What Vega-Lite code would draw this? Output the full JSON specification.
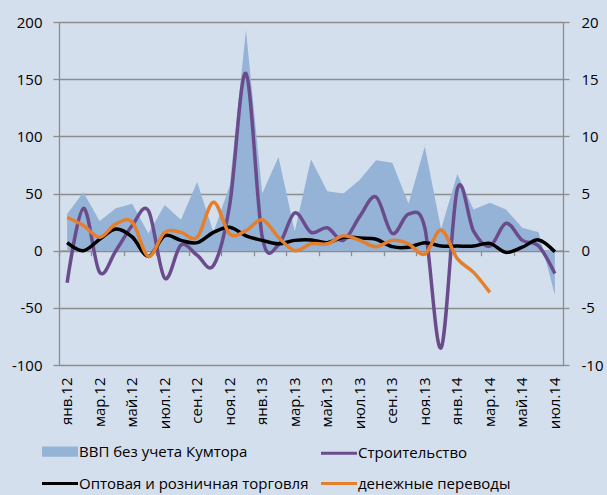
{
  "$schema": "https://vega.github.io/schema/vega-lite/v6.json",
  "width": 504,
  "height": 343,
  "autosize": {"type": "none"},
  "padding": {"left": 59, "top": 22, "right": 44, "bottom": 130},
  "background": "#D4DFEE",
  "config": {
    "view": {"stroke": null},
    "font": "Open Sans",
    "axis": {"labelFont": "Open Sans", "labelFontSize": 15, "labelColor": "#000000", "title": null}
  },
  "data": {
    "values": [
      {"m": "янв.12", "ВВП без учета Кумтора": 3.2, "Строительство": -28, "Оптовая и розничная торговля": 7, "денежные переводы": 29},
      {"m": "фев.12", "ВВП без учета Кумтора": 5.1, "Строительство": 37, "Оптовая и розничная торговля": 0, "денежные переводы": 22},
      {"m": "мар.12", "ВВП без учета Кумтора": 2.6, "Строительство": -19, "Оптовая и розничная торговля": 10, "денежные переводы": 11.7},
      {"m": "апр.12", "ВВП без учета Кумтора": 3.7, "Строительство": 0, "Оптовая и розничная торговля": 19, "денежные переводы": 23.4},
      {"m": "май.12", "ВВП без учета Кумтора": 4.1, "Строительство": 22, "Оптовая и розничная торговля": 12, "денежные переводы": 25},
      {"m": "июн.12", "ВВП без учета Кумтора": 1.5, "Строительство": 35, "Оптовая и розничная торговля": -5, "денежные переводы": -5},
      {"m": "июл.12", "ВВП без учета Кумтора": 4.0, "Строительство": -24, "Оптовая и розничная торговля": 13, "денежные переводы": 16},
      {"m": "авг.12", "ВВП без учета Кумтора": 2.7, "Строительство": 5, "Оптовая и розничная торговля": 9, "денежные переводы": 16},
      {"m": "сен.12", "ВВП без учета Кумтора": 6.0, "Строительство": -4, "Оптовая и розничная торговля": 7, "денежные переводы": 11.7},
      {"m": "окт.12", "ВВП без учета Кумтора": 1.6, "Строительство": -13, "Оптовая и розничная торговля": 16, "денежные переводы": 42.4},
      {"m": "ноя.12", "ВВП без учета Кумтора": 5.7, "Строительство": 40, "Оптовая и розничная торговля": 20.5, "денежные переводы": 14.6},
      {"m": "дек.12", "ВВП без учета Кумтора": 19.3, "Строительство": 155, "Оптовая и розничная торговля": 13, "денежные переводы": 17.5},
      {"m": "янв.13", "ВВП без учета Кумтора": 5.0, "Строительство": 12, "Оптовая и розничная торговля": 9, "денежные переводы": 27},
      {"m": "фев.13", "ВВП без учета Кумтора": 8.2, "Строительство": 5, "Оптовая и розничная торговля": 6, "денежные переводы": 11.7},
      {"m": "мар.13", "ВВП без учета Кумтора": 1.7, "Строительство": 33, "Оптовая и розничная торговля": 9, "денежные переводы": 0},
      {"m": "апр.13", "ВВП без учета Кумтора": 8.0, "Строительство": 16, "Оптовая и розничная торговля": 9.4, "денежные переводы": 6},
      {"m": "май.13", "ВВП без учета Кумтора": 5.2, "Строительство": 20, "Оптовая и розничная торговля": 7, "денежные переводы": 6},
      {"m": "июн.13", "ВВП без учета Кумтора": 5.0, "Строительство": 9, "Оптовая и розничная торговля": 11.7, "денежные переводы": 13},
      {"m": "июл.13", "ВВП без учета Кумтора": 6.2, "Строительство": 30, "Оптовая и розничная торговля": 11, "денежные переводы": 9},
      {"m": "авг.13", "ВВП без учета Кумтора": 7.9, "Строительство": 47, "Оптовая и розничная торговля": 10, "денежные переводы": 3.5},
      {"m": "сен.13", "ВВП без учета Кумтора": 7.7, "Строительство": 15, "Оптовая и розничная торговля": 3.5, "денежные переводы": 9},
      {"m": "окт.13", "ВВП без учета Кумтора": 4.1, "Строительство": 32, "Оптовая и розничная торговля": 3, "денежные переводы": 6},
      {"m": "ноя.13", "ВВП без учета Кумтора": 9.1, "Строительство": 20, "Оптовая и розничная торговля": 7, "денежные переводы": -3},
      {"m": "дек.13", "ВВП без учета Кумтора": 1.9, "Строительство": -85, "Оптовая и розничная торговля": 4, "денежные переводы": 18},
      {"m": "янв.14", "ВВП без учета Кумтора": 6.7, "Строительство": 54, "Оптовая и розничная торговля": 4, "денежные переводы": -7},
      {"m": "фев.14", "ВВП без учета Кумтора": 3.6, "Строительство": 17, "Оптовая и розничная торговля": 4, "денежные переводы": -19},
      {"m": "мар.14", "ВВП без учета Кумтора": 4.2, "Строительство": 4, "Оптовая и розничная торговля": 6.4, "денежные переводы": -36.5},
      {"m": "апр.14", "ВВП без учета Кумтора": 3.6, "Строительство": 24, "Оптовая и розничная торговля": -1.5, "денежные переводы": null},
      {"m": "май.14", "ВВП без учета Кумтора": 2.0, "Строительство": 9, "Оптовая и розничная торговля": 3, "денежные переводы": null},
      {"m": "июн.14", "ВВП без учета Кумтора": 1.6, "Строительство": 4, "Оптовая и розничная торговля": 9.4, "денежные переводы": null},
      {"m": "июл.14", "ВВП без учета Кумтора": -3.9, "Строительство": -20, "Оптовая и розничная торговля": -1, "денежные переводы": null}
    ]
  },
  "layer": [
    {
      "mark": {"type": "area", "opacity": 1},
      "encoding": {
        "x": {
          "field": "m", "type": "ordinal", "bandPosition": 0.5,
          "scale": {"type": "band", "paddingInner": 0, "paddingOuter": 0,
            "domain": ["янв.12","фев.12","мар.12","апр.12","май.12","июн.12","июл.12","авг.12","сен.12","окт.12","ноя.12","дек.12","янв.13","фев.13","мар.13","апр.13","май.13","июн.13","июл.13","авг.13","сен.13","окт.13","ноя.13","дек.13","янв.14","фев.14","мар.14","апр.14","май.14","июн.14","июл.14"]},
          "axis": {
            "orient": "bottom",
            "values": ["янв.12","мар.12","май.12","июл.12","сен.12","ноя.12","янв.13","мар.13","май.13","июл.13","сен.13","ноя.13","янв.14","мар.14","май.14","июл.14"],
            "labelAngle": -90, "labelPadding": 12, "ticks": false, "domain": false, "grid": false, "title": null
          }
        },
        "y": {
          "field": "ВВП без учета Кумтора", "type": "quantitative",
          "scale": {"domain": [-10, 20], "nice": false, "zero": false},
          "axis": {
            "orient": "right", "values": [-10, -5, 0, 5, 10, 15, 20], "grid": false,
            "labelExpr": "toString(datum.value)",
            "domain": true, "domainColor": "#8C8C8C", "domainWidth": 1.3,
            "ticks": true, "tickSize": 6, "tickColor": "#8C8C8C", "tickWidth": 1.3,
            "labelPadding": 12, "title": null
          }
        },
        "y2": {"datum": 0},
        "color": {
          "datum": "ВВП без учета Кумтора", "type": "nominal",
          "scale": {
            "domain": ["ВВП без учета Кумтора", "Оптовая и розничная торговля", "Строительство", "денежные переводы"],
            "range": ["#95B3D7", "#000000", "#6A4C8C", "#E57F2C"]
          },
          "legend": {
            "orient": "none", "legendX": -9.5, "legendY": 419, "title": null,
            "columns": 2, "columnPadding": 5, "rowPadding": 10, "padding": 0,
            "symbolSize": 324, "labelOffset": 8.5, "labelFont": "Open Sans", "labelFontSize": 15,
            "labelColor": "#000000", "labelLimit": 400, "symbolOpacity": 1,
            "encode": {
              "symbols": {
                "update": {
                  "shape": {"signal": "datum.value === 'ВВП без учета Кумтора' ? 'M-2,-0.58H2V0.58H-2Z' : 'M-2,0H2'"},
                  "fill": {"signal": "datum.value === 'ВВП без учета Кумтора' ? '#95B3D7' : 'transparent'"},
                  "stroke": {"signal": "datum.value === 'ВВП без учета Кумтора' ? 'transparent' : scale('color', datum.value)"},
                  "strokeWidth": {"value": 3},
                  "opacity": {"value": 1}
                }
              }
            }
          }
        }
      }
    },
    {
      "encoding": {
        "x": {
          "field": "m", "type": "ordinal", "bandPosition": 0.5,
          "scale": {"type": "band", "paddingInner": 0, "paddingOuter": 0,
            "domain": ["янв.12","фев.12","мар.12","апр.12","май.12","июн.12","июл.12","авг.12","сен.12","окт.12","ноя.12","дек.12","янв.13","фев.13","мар.13","апр.13","май.13","июн.13","июл.13","авг.13","сен.13","окт.13","ноя.13","дек.13","янв.14","фев.14","мар.14","апр.14","май.14","июн.14","июл.14"]},
          "axis": {
            "orient": "bottom", "offset": -114.3, "bandPosition": 0,
            "values": ["янв.12","мар.12","май.12","июл.12","сен.12","ноя.12","янв.13","мар.13","май.13","июл.13","сен.13","ноя.13","янв.14","мар.14","май.14","июл.14"],
            "labels": false, "ticks": true, "tickSize": 5, "tickColor": "#8C8C8C", "tickWidth": 1.3,
            "domain": true, "domainColor": "#8C8C8C", "domainWidth": 1.3, "grid": false, "title": null
          }
        }
      },
      "layer": [
        {
          "mark": {"type": "line", "color": "#6A4C8C", "strokeWidth": 3.5, "interpolate": "cardinal"},
          "encoding": {
            "y": {
              "field": "Строительство", "type": "quantitative",
              "scale": {"domain": [-100, 200], "nice": false, "zero": false},
              "axis": {
                "orient": "left", "values": [-100, -50, 0, 50, 100, 150, 200],
                "labelExpr": "toString(datum.value)",
                "grid": true, "gridColor": "#8C8C8C", "gridWidth": 1.3,
                "domain": true, "domainColor": "#8C8C8C", "domainWidth": 1.3,
                "ticks": true, "tickSize": 6, "tickColor": "#8C8C8C", "tickWidth": 1.3,
                "labelPadding": 11, "title": null
              }
            }
          }
        },
        {
          "mark": {"type": "line", "color": "#000000", "strokeWidth": 3.5, "interpolate": "cardinal"},
          "encoding": {
            "y": {"field": "Оптовая и розничная торговля", "type": "quantitative"}
          }
        },
        {
          "transform": [{"filter": "isValid(datum['денежные переводы'])"}],
          "mark": {"type": "line", "color": "#E57F2C", "strokeWidth": 3.5, "interpolate": "cardinal"},
          "encoding": {
            "y": {"field": "денежные переводы", "type": "quantitative"}
          }
        }
      ]
    }
  ],
  "resolve": {"scale": {"y": "independent"}, "axis": {"x": "independent"}}
}
